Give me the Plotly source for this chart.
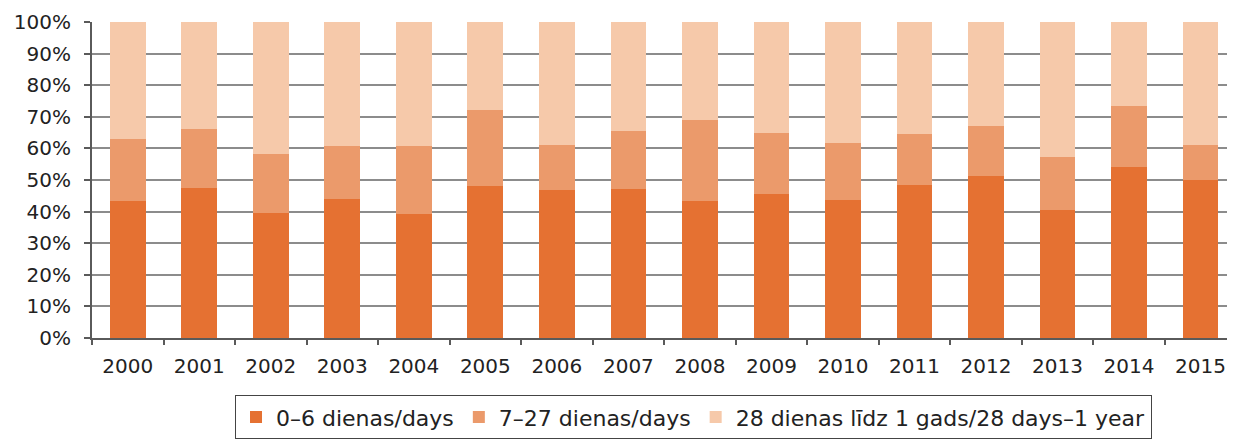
import plotly.graph_objects as go

years = [str(y) for y in range(2000, 2016)]
short_stay = [43.4, 47.5, 39.7, 43.9, 39.3, 48.2, 46.9, 47.2, 43.4, 45.7, 43.7, 48.4, 51.3, 40.6, 54.1, 50.0]
mid_stay = [19.6, 18.5, 18.6, 16.8, 21.5, 24.0, 14.3, 18.3, 25.6, 19.2, 18.1, 16.2, 15.9, 16.6, 19.4, 11.1]
long_stay = [37.0, 34.0, 41.7, 39.3, 39.2, 27.8, 38.8, 34.5, 31.0, 35.1, 38.2, 35.4, 32.8, 42.8, 26.5, 38.9]
series_names = ["0–6 dienas/days", "7–27 dienas/days", "28 dienas līdz 1 gads/28 days–1 year"]
colors = ["#E57132", "#EB9A6B", "#F6C9AA"]

fig = go.Figure()
for name, vals, col in zip(series_names, [short_stay, mid_stay, long_stay], colors):
    fig.add_trace(go.Bar(x=years, y=vals, name=name, marker=dict(color=col, line=dict(width=0)), width=0.5))

# the page body adds an 8px margin; the figure is sized so the page does not overflow
font = dict(family="DejaVu Sans, Verdana, sans-serif", size=20, color="#222222")
fig.update_layout(
    barmode="stack",
    width=1219, height=432,
    margin=dict(l=84, r=0, t=14, b=102),
    plot_bgcolor="white", paper_bgcolor="white",
    font=font,
    showlegend=True,
    legend=dict(orientation="h", x=0.126, xanchor="left", y=-0.181, yanchor="top",
                bordercolor="#444444", borderwidth=1,
                font=dict(family="DejaVu Sans, Verdana, sans-serif", size=22, color="#222222"),
                traceorder="normal", itemwidth=30),
    xaxis=dict(type="category", range=[-0.5, 15.37], showline=True, linecolor="#5a5a5a", linewidth=2,
               ticks="outside", tickson="boundaries", ticklen=5, tickcolor="#5a5a5a", tickwidth=2,
               showgrid=False, ticklabelstandoff=9, automargin=False),
    yaxis=dict(range=[0, 100], dtick=10, ticksuffix="%", showline=True, linecolor="#5a5a5a", linewidth=2,
               ticks="outside", ticklen=6, tickcolor="#5a5a5a", tickwidth=2,
               showgrid=True, gridcolor="#8c8c8c", gridwidth=1.5, zeroline=False, ticklabelstandoff=9,
               automargin=False),
)
fig.write_html("out.html")
